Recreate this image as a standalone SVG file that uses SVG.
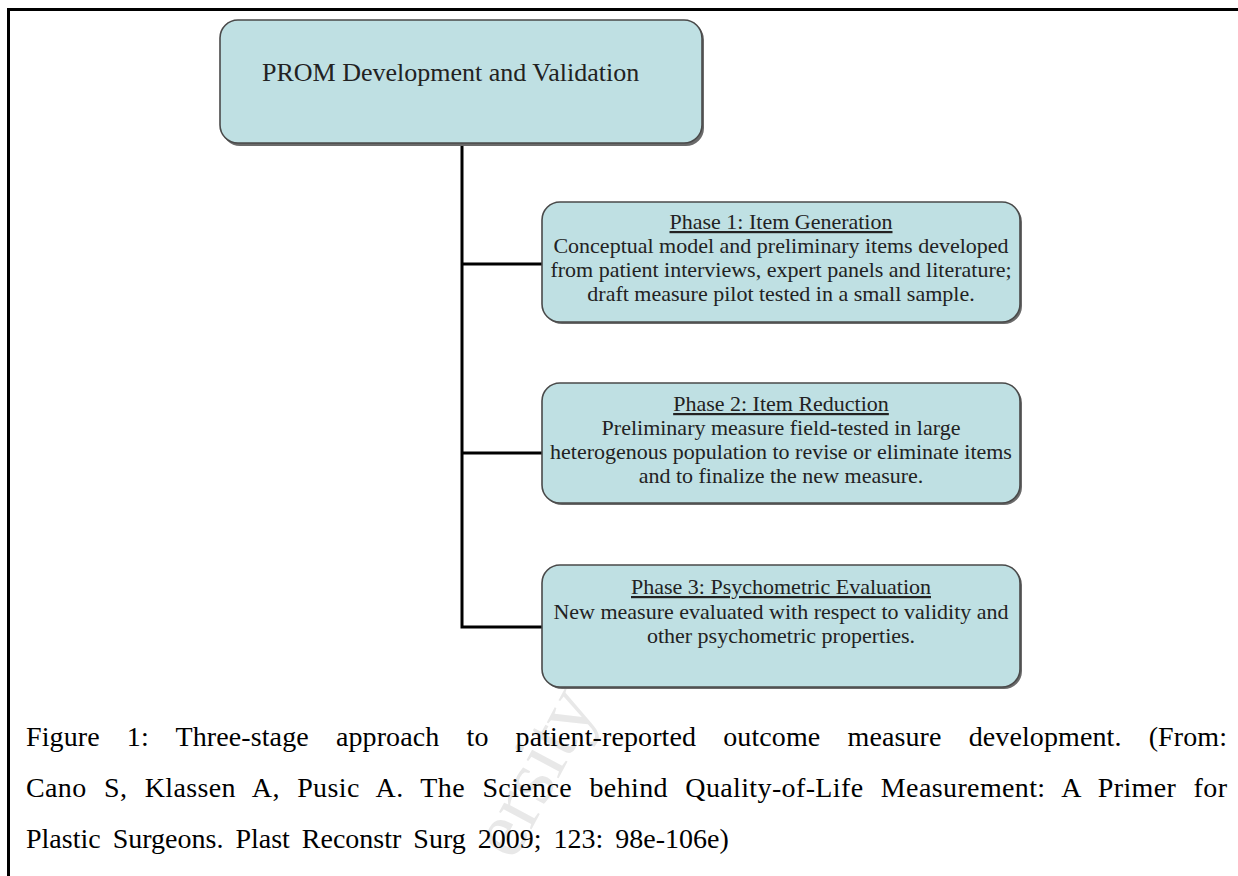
<svg xmlns="http://www.w3.org/2000/svg" width="1238" height="876" viewBox="0 0 1238 876">
<style>
.frame{stroke:#000;stroke-width:3;fill:none}
.shadow{fill:#6a6a6a}
.box{fill:#bfe0e3;stroke:#4a4a4a;stroke-width:1.6}
.conn{stroke:#000;stroke-width:3;fill:none}
.t{font-family:"Liberation Serif","Times New Roman",serif;fill:#222;text-anchor:middle;font-size:22px}
.title{text-decoration:underline}
.cap{font-family:"Liberation Serif","Times New Roman",serif;fill:#000;font-size:28px}
.wm{font-family:"Liberation Serif","Times New Roman",serif;fill:#e8e8e8;font-size:80px}
</style>
<rect width="1238" height="876" fill="#fff"/>
<path class="frame" d="M8.5 876 V9.5 H1238"/>
<text class="wm" transform="translate(514,862) rotate(-62)">ersity</text>
<g id="connectors">
<path class="conn" d="M462 143 V627 H542"/>
<path class="conn" d="M462 264 H542"/>
<path class="conn" d="M462 453 H542"/>
</g>
<g id="root">
<rect class="shadow" x="222" y="22" width="482" height="124" rx="18"/>
<rect class="box" x="220" y="20" width="482" height="123" rx="18"/>
<text class="t" style="font-size:26px;text-anchor:start" x="262" y="81">PROM Development and Validation</text>
</g>
<g id="phase1">
<rect class="shadow" x="544" y="204" width="478" height="120" rx="18"/>
<rect class="box" x="542" y="202" width="478" height="120" rx="18"/>
<text class="t title" x="781" y="229">Phase 1: Item Generation</text>
<text class="t" x="781" y="253">Conceptual model and preliminary items developed</text>
<text class="t" x="781" y="277">from patient interviews, expert panels and literature;</text>
<text class="t" x="781" y="301">draft measure pilot tested in a small sample.</text>
</g>
<g id="phase2">
<rect class="shadow" x="544" y="385" width="478" height="120" rx="18"/>
<rect class="box" x="542" y="383" width="478" height="120" rx="18"/>
<text class="t title" x="781" y="411">Phase 2: Item Reduction</text>
<text class="t" x="781" y="435">Preliminary measure field-tested in large</text>
<text class="t" x="781" y="459">heterogenous population to revise or eliminate items</text>
<text class="t" x="781" y="483">and to finalize the new measure.</text>
</g>
<g id="phase3">
<rect class="shadow" x="544" y="567" width="478" height="122" rx="18"/>
<rect class="box" x="542" y="565" width="478" height="122" rx="18"/>
<text class="t title" x="781" y="594">Phase 3: Psychometric Evaluation</text>
<text class="t" x="781" y="619">New measure evaluated with respect to validity and</text>
<text class="t" x="781" y="643">other psychometric properties.</text>
</g>
<g id="caption">
<text class="cap" x="26" y="746" textLength="1201" lengthAdjust="spacing" word-spacing="20">Figure 1: Three-stage approach to patient-reported outcome measure development. (From:</text>
<text class="cap" x="26" y="797" textLength="1201" lengthAdjust="spacing" word-spacing="10">Cano S, Klassen A, Pusic A. The Science behind Quality-of-Life Measurement: A Primer for</text>
<text class="cap" x="26" y="848" word-spacing="5">Plastic Surgeons. Plast Reconstr Surg 2009; 123: 98e-106e)</text>
</g>
</svg>
